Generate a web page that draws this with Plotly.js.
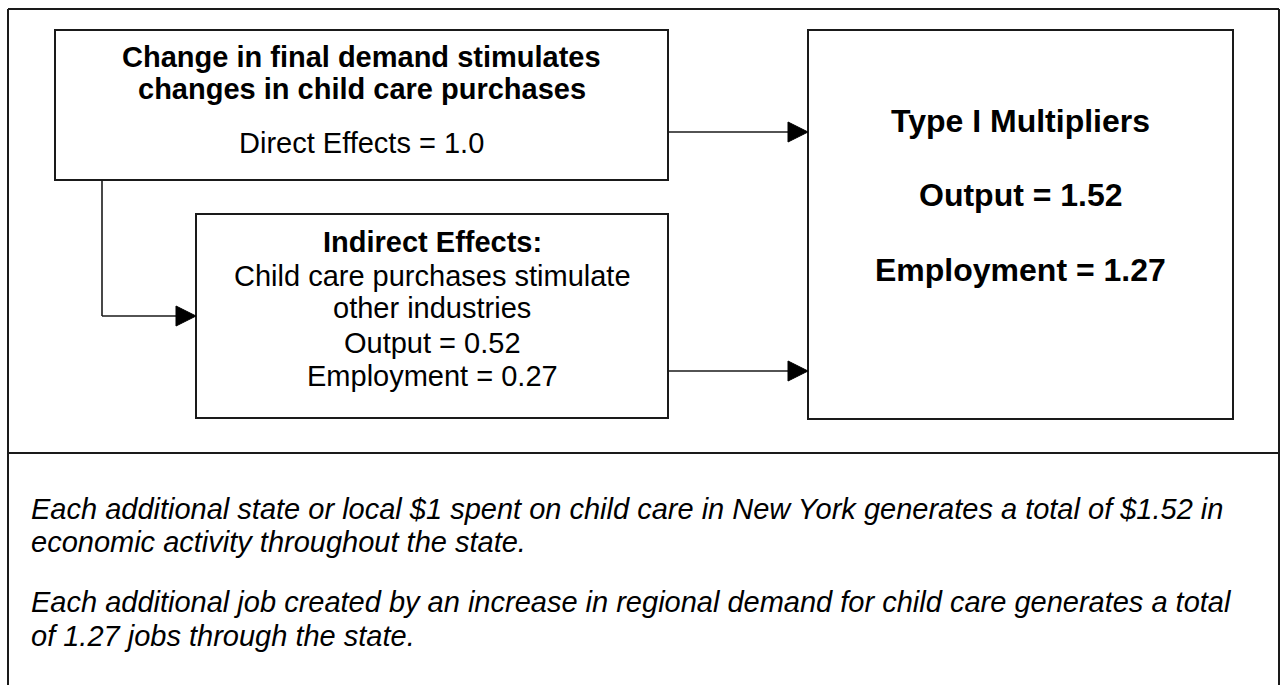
<!DOCTYPE html>
<html>
<head>
<meta charset="utf-8">
<script src="https://cdn.plot.ly/plotly-3.0.1.min.js"></script>
<style>
  html, body { margin: 0; padding: 0; background: #ffffff; }
  #chart { width: 1281px; height: 685px; }
</style>
</head>
<body>
<div id="chart"></div>
<script>
// ---- Data ----
const directEffect = 1.0;
const indirectOutput = 0.52;
const indirectEmployment = 0.27;
const outputMultiplier = 1.52;
const employmentMultiplier = 1.27;

const directTitle = ["Change in final demand stimulates", "changes in child care purchases"];
const directLabel = "Direct Effects";
const indirectTitle = "Indirect Effects:";
const indirectLines = ["Child care purchases stimulate", "other industries"];
const multiplierTitle = "Type I Multipliers";
const measureNames = ["Output", "Employment"];
const noteLines = [
  "Each additional state or local $1 spent on child care in New York generates a total of $" + outputMultiplier.toFixed(2) + " in",
  "economic activity throughout the state.",
  "Each additional job created by an increase in regional demand for child care generates a total",
  "of " + employmentMultiplier.toFixed(2) + " jobs through the state."
];

// ---- Layout geometry (pixel space, y downward) ----
const W = 1281, H = 685;
const FONT = "Liberation Sans, Arial, Helvetica, sans-serif";
const INK = "#1a1a1a";

const frame = {x0: 8, x1: 1279, y0: 9, y1: 690, divider: 453};
const box1 = {x0: 55, x1: 668, y0: 30, y1: 180};
const box2 = {x0: 196, x1: 668, y0: 214, y1: 418};
const box3 = {x0: 808, x1: 1233, y0: 30, y1: 419};

const shapes = [];
function rect(b, w) {
  shapes.push({type: "rect", xref: "x", yref: "y", x0: b.x0, x1: b.x1, y0: b.y0, y1: b.y1,
    line: {color: INK, width: w}, fillcolor: "rgba(0,0,0,0)"});
}
function seg(x0, y0, x1, y1, w) {
  shapes.push({type: "line", xref: "x", yref: "y", x0: x0, y0: y0, x1: x1, y1: y1,
    line: {color: INK, width: w}});
}
function head(xTip, yTip) {
  const len = 20, half = 10;
  shapes.push({type: "path", xref: "x", yref: "y",
    path: "M " + (xTip - len) + " " + (yTip - half) + " L " + xTip + " " + yTip + " L " + (xTip - len) + " " + (yTip + half) + " Z",
    fillcolor: "#000000", line: {color: "#000000", width: 1}});
}

// outer frame (open at the bottom edge, runs off the page)
seg(frame.x0, frame.y0, frame.x1, frame.y0, 2);
seg(frame.x0, frame.y0, frame.x0, frame.y1, 2);
seg(frame.x1, frame.y0, frame.x1, frame.y1, 2);
seg(frame.x0, frame.divider, frame.x1, frame.divider, 2);

rect(box1, 2);
rect(box2, 2);
rect(box3, 2);

// connector: box1 -> box2
const connX = 102, connY = 316;
seg(connX, box1.y1, connX, connY, 1.6);
seg(connX, connY, box2.x0 - 18, connY, 1.6);
head(box2.x0, connY);

// arrows to multiplier box
const arrowY1 = 132, arrowY2 = 371;
seg(box1.x1, arrowY1, box3.x0 - 18, arrowY1, 1.6);
head(box3.x0, arrowY1);
seg(box2.x1, arrowY2, box3.x0 - 18, arrowY2, 1.6);
head(box3.x0, arrowY2);

// ---- Text ----
const annotations = [];
function txt(s, x, y, size, opts) {
  opts = opts || {};
  annotations.push({
    text: s, x: x, y: y, xref: "x", yref: "y",
    xanchor: opts.xanchor || "center", yanchor: "middle",
    showarrow: false, borderpad: 0,
    font: {family: FONT, size: size, color: "#000000"}
  });
}
const c1 = (box1.x0 + box1.x1) / 2;
const c2 = (box2.x0 + box2.x1) / 2;
const c3 = (box3.x0 + box3.x1) / 2;

txt("<b>" + directTitle[0] + "</b>", c1, 57, 29);
txt("<b>" + directTitle[1] + "</b>", c1, 89, 29);
txt(directLabel + " = " + directEffect.toFixed(1), c1, 143, 29);

txt("<b>" + indirectTitle + "</b>", c2, 242, 29);
txt(indirectLines[0], c2, 276, 29);
txt(indirectLines[1], c2, 308, 29);
txt(measureNames[0] + " = " + indirectOutput.toFixed(2), c2, 343, 29);
txt(measureNames[1] + " = " + indirectEmployment.toFixed(2), c2, 376, 29);

txt("<b>" + multiplierTitle + "</b>", c3, 121, 32);
txt("<b>" + measureNames[0] + " = " + outputMultiplier.toFixed(2) + "</b>", c3, 195, 32);
txt("<b>" + measureNames[1] + " = " + employmentMultiplier.toFixed(2) + "</b>", c3, 270, 32);

const noteY = [509, 542, 602, 636];
noteLines.forEach(function (s, i) {
  txt("<i>" + s + "</i>", 30, noteY[i], 29, {xanchor: "left"});
});

const layout = {
  width: W, height: H,
  margin: {l: 0, r: 0, t: 0, b: 0, pad: 0},
  paper_bgcolor: "#ffffff", plot_bgcolor: "#ffffff",
  showlegend: false,
  xaxis: {range: [0, W], visible: false, fixedrange: true},
  yaxis: {range: [H, 0], visible: false, fixedrange: true},
  shapes: shapes,
  annotations: annotations
};

Plotly.newPlot("chart", [{x: [], y: [], type: "scatter", mode: "markers", hoverinfo: "skip"}], layout,
  {displayModeBar: false, staticPlot: true});
</script>
</body>
</html>
